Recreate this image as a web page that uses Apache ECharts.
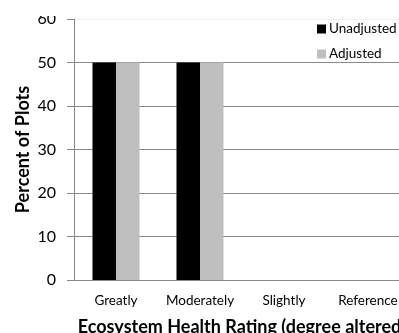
<!DOCTYPE html>
<html>
<head>
<meta charset="utf-8">
<script src="https://cdn.jsdelivr.net/npm/echarts@6/dist/echarts.min.js"></script>
<style>
  html, body { margin: 0; padding: 0; background: #fff; }
  #chart { width: 399px; height: 333px; }
</style>
</head>
<body>
<div id="chart"></div>
<script>
// Ecosystem health rating: share of plots per category
const categories = ['Greatly', 'Moderately', 'Slightly', 'Reference'];
const unadjusted = [50, 50, 0, 0];
const adjusted = [50, 50, 0, 0];
const yTicks = [0, 10, 20, 30, 40, 50, 60];

const FONT = 'Lato, "Open Sans", sans-serif';
const chart = echarts.init(document.getElementById('chart'));

chart.setOption({
  animation: false,
  backgroundColor: '#fff',
  textStyle: { fontFamily: FONT },
  grid: { left: 74, top: 19, bottom: 53, width: 336, containLabel: false, outerBoundsMode: 'none' },
  legend: {
    orient: 'vertical',
    left: 312,
    top: 17,
    itemWidth: 9,
    itemHeight: 9,
    itemGap: 11,
    icon: 'rect',
    textStyle: { fontFamily: FONT, fontSize: 13.5, color: '#000', padding: [0, 0, 0, -2] },
    data: ['Unadjusted', 'Adjusted']
  },
  xAxis: {
    type: 'category',
    data: categories,
    axisLine: { lineStyle: { color: '#888', width: 1 } },
    axisTick: { show: false },
    axisLabel: { color: '#000', fontSize: 13.5, margin: 14, interval: 0, fontFamily: FONT },
    name: 'Ecosystem Health Rating (degree altered)',
    nameLocation: 'middle',
    nameGap: 38,
    nameMoveOverlap: false,
    nameTextStyle: { color: '#000', fontSize: 18, fontWeight: 'bold', fontFamily: FONT }
  },
  yAxis: {
    type: 'value',
    min: yTicks[0],
    max: yTicks[yTicks.length - 1],
    interval: 10,
    axisLine: { show: true, lineStyle: { color: '#888', width: 1 } },
    axisTick: { show: true, length: 7, lineStyle: { color: '#888' } },
    axisLabel: { color: '#000', fontSize: 16, margin: 18, fontFamily: FONT },
    splitLine: { lineStyle: { color: ['#888', '#888', '#888', '#888', '#888', '#888', '#f0f0f0'], width: 1 } },
    name: 'Percent of Plots',
    nameLocation: 'middle',
    nameGap: 42,
    nameMoveOverlap: false,
    nameTextStyle: { color: '#000', fontSize: 18, fontWeight: 'bold', fontFamily: FONT }
  },
  series: [
    {
      name: 'Unadjusted',
      type: 'bar',
      data: unadjusted,
      itemStyle: { color: '#000' },
      barGap: '0%',
      barCategoryGap: '44%'
    },
    {
      name: 'Adjusted',
      type: 'bar',
      data: adjusted,
      itemStyle: { color: '#bfbfbf' }
    }
  ],
  graphic: [
    {
      // top edge of the frame hides the upper half of the highest tick label
      type: 'rect',
      left: 30,
      top: 0,
      z: 100,
      shape: { width: 40, height: 16 },
      style: { fill: '#fff' }
    }
  ]
});
</script>
</body>
</html>
